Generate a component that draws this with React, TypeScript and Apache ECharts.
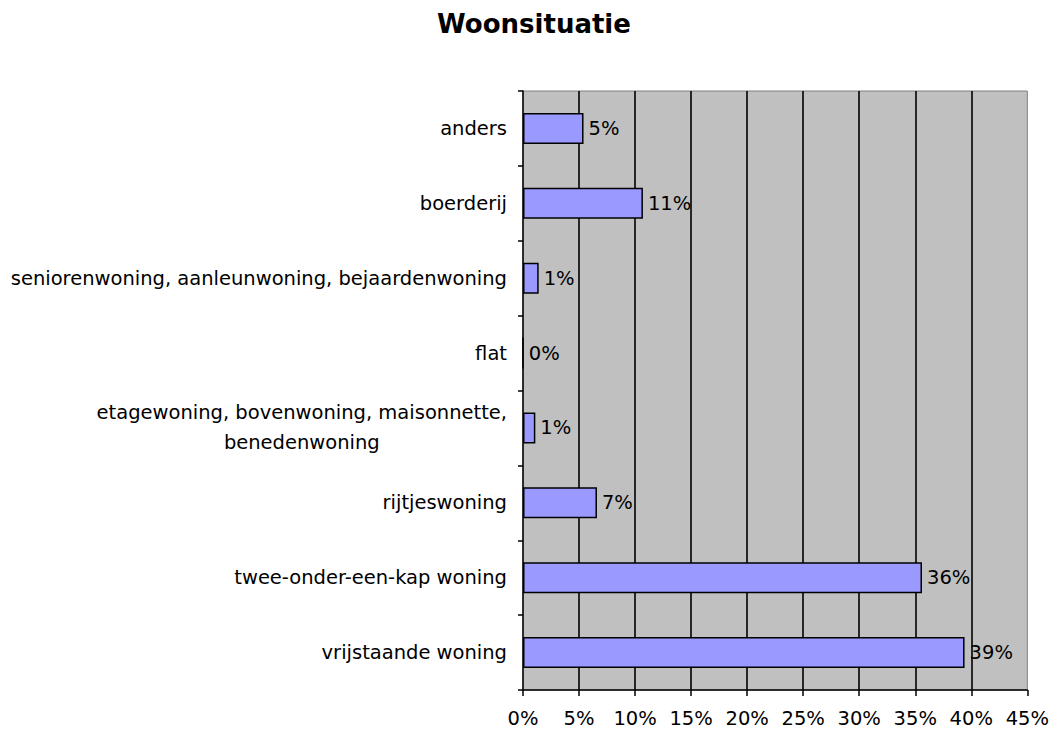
import React, { useEffect, useRef } from "react";
import * as echarts from "echarts";

const titleText = "Woonsituatie";
const categories = [
  "anders",
  "boerderij",
  "seniorenwoning, aanleunwoning, bejaardenwoning",
  "flat",
  "etagewoning, bovenwoning, maisonnette,\nbenedenwoning",
  "rijtjeswoning",
  "twee-onder-een-kap woning",
  "vrijstaande woning",
];
const values = [5.4, 10.7, 1.4, 0, 1.1, 6.6, 35.6, 39.4];
const axisMin = 0;
const axisMax = 45;
const axisStep = 5;

const FONT = "DejaVu Sans";

export default function App() {
  const ref = useRef<HTMLDivElement>(null);
  useEffect(() => {
    if (!ref.current) return;
    const chart = echarts.init(ref.current, null, { renderer: "svg" });
    chart.setOption({
      animation: false,
      backgroundColor: "#ffffff",
      title: {
        text: titleText,
        left: 529,
        top: 6,
        textAlign: "center",
        textStyle: { fontFamily: FONT, fontWeight: "bold", fontSize: 26, color: "#000" },
      },
      grid: {
        left: 523,
        right: 22,
        top: 91,
        bottom: 43,
        show: true,
        backgroundColor: "#C0C0C0",
        borderColor: "#808080",
        borderWidth: 1,
      },
      xAxis: {
        type: "value",
        min: axisMin,
        max: axisMax,
        interval: axisStep,
        axisLine: { show: true, lineStyle: { color: "#000", width: 1.5 } },
        axisTick: { show: true, length: 6, lineStyle: { color: "#000", width: 1.5 } },
        axisLabel: {
          formatter: "{value}%",
          fontFamily: FONT,
          fontSize: 19.5,
          color: "#000",
          margin: 18,
        },
        splitLine: {
          show: true,
          showMinLine: false,
          showMaxLine: false,
          lineStyle: { color: "#000", width: 1.6 },
        },
      },
      yAxis: {
        type: "category",
        data: categories,
        inverse: true,
        axisLine: { show: true, lineStyle: { color: "#000", width: 1.5 } },
        axisTick: { show: true, length: 5, lineStyle: { color: "#000", width: 1.5 } },
        axisLabel: {
          fontFamily: FONT,
          fontSize: 19.5,
          color: "#000",
          margin: 16,
          formatter: (v: string) => {
            if (v.indexOf("\n") >= 0) {
              return v
                .split("\n")
                .map((s) => "{c|" + s + "}")
                .join("\n");
            }
            return v;
          },
          rich: {
            c: { align: "center", fontFamily: FONT, fontSize: 19.5, color: "#000", lineHeight: 30 },
          },
        },
      },
      series: [
        {
          type: "bar",
          data: values,
          barWidth: 31,
          itemStyle: { color: "#9999FF", borderColor: "#000", borderWidth: 1.5 },
          label: {
            show: true,
            position: "right",
            distance: 5,
            fontFamily: FONT,
            fontSize: 19.5,
            color: "#000",
            formatter: (p: any) => Math.round(p.value) + "%",
          },
        },
      ],
    });
    return () => chart.dispose();
  }, []);
  return <div ref={ref} style={{ width: 1052, height: 733, position: "absolute", left: 0, top: 0 }} />;
}
